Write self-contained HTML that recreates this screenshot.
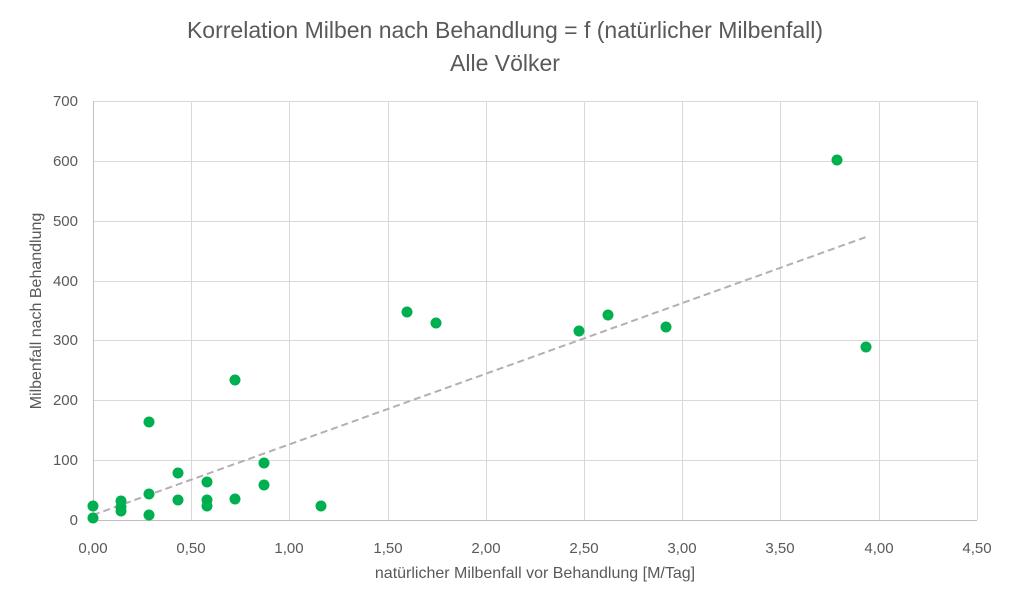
<!DOCTYPE html>
<html><head><meta charset="utf-8"><style>body{margin:0;background:#fff}</style></head><body>
<svg width="1010" height="591" xmlns="http://www.w3.org/2000/svg" font-family="Liberation Sans, sans-serif">
<rect width="1010" height="591" fill="#fff"/>
<text x="505" y="38" text-anchor="middle" font-size="23" fill="#595959">Korrelation Milben nach Behandlung = f (natürlicher Milbenfall)</text>
<text x="505" y="71" text-anchor="middle" font-size="23" fill="#595959">Alle Völker</text>
<g stroke="#d9d9d9" stroke-width="1">
<line x1="93" y1="101.5" x2="977" y2="101.5"/><line x1="93" y1="161.5" x2="977" y2="161.5"/><line x1="93" y1="221.5" x2="977" y2="221.5"/><line x1="93" y1="281.5" x2="977" y2="281.5"/><line x1="93" y1="340.5" x2="977" y2="340.5"/><line x1="93" y1="400.5" x2="977" y2="400.5"/><line x1="93" y1="460.5" x2="977" y2="460.5"/>
<line x1="191.5" y1="101" x2="191.5" y2="520"/><line x1="289.5" y1="101" x2="289.5" y2="520"/><line x1="388.5" y1="101" x2="388.5" y2="520"/><line x1="486.5" y1="101" x2="486.5" y2="520"/><line x1="584.5" y1="101" x2="584.5" y2="520"/><line x1="682.5" y1="101" x2="682.5" y2="520"/><line x1="780.5" y1="101" x2="780.5" y2="520"/><line x1="879.5" y1="101" x2="879.5" y2="520"/><line x1="977.5" y1="101" x2="977.5" y2="520"/>
</g>
<line x1="93.5" y1="101" x2="93.5" y2="520" stroke="#bfbfbf"/>
<line x1="93" y1="520.5" x2="977" y2="520.5" stroke="#bfbfbf"/>
<g font-size="15" fill="#595959" text-anchor="end">
<text x="78" y="106">700</text><text x="78" y="166">600</text><text x="78" y="226">500</text><text x="78" y="286">400</text><text x="78" y="345">300</text><text x="78" y="405">200</text><text x="78" y="465">100</text><text x="78" y="525">0</text>
</g>
<g font-size="15" fill="#595959" text-anchor="middle">
<text x="93" y="553">0,00</text><text x="191" y="553">0,50</text><text x="289" y="553">1,00</text><text x="388" y="553">1,50</text><text x="486" y="553">2,00</text><text x="584" y="553">2,50</text><text x="682" y="553">3,00</text><text x="780" y="553">3,50</text><text x="879" y="553">4,00</text><text x="977" y="553">4,50</text>
</g>
<text x="535" y="578" text-anchor="middle" font-size="16" fill="#595959">natürlicher Milbenfall vor Behandlung [M/Tag]</text>
<text transform="translate(41,311) rotate(-90)" text-anchor="middle" font-size="16" fill="#595959">Milbenfall nach Behandlung</text>
<line x1="93" y1="515" x2="866" y2="237" stroke="#b8aeb2" stroke-width="2" stroke-dasharray="7,4"/>
<g fill="#00b050">
<circle cx="93" cy="506" r="5.5"/><circle cx="93" cy="518" r="5.5"/><circle cx="121" cy="501" r="5.5"/><circle cx="121" cy="507" r="5.5"/><circle cx="121" cy="511" r="5.5"/><circle cx="149" cy="422" r="5.5"/><circle cx="149" cy="494" r="5.5"/><circle cx="149" cy="515" r="5.5"/><circle cx="178" cy="473" r="5.5"/><circle cx="178" cy="500" r="5.5"/><circle cx="207" cy="482" r="5.5"/><circle cx="207" cy="500" r="5.5"/><circle cx="207" cy="506" r="5.5"/><circle cx="235" cy="380" r="5.5"/><circle cx="235" cy="499" r="5.5"/><circle cx="264" cy="463" r="5.5"/><circle cx="264" cy="485" r="5.5"/><circle cx="321" cy="506" r="5.5"/><circle cx="407" cy="312" r="5.5"/><circle cx="436" cy="323" r="5.5"/><circle cx="579" cy="331" r="5.5"/><circle cx="608" cy="315" r="5.5"/><circle cx="666" cy="327" r="5.5"/><circle cx="837" cy="160" r="5.5"/><circle cx="866" cy="347" r="5.5"/>
</g>
</svg>
</body></html>
